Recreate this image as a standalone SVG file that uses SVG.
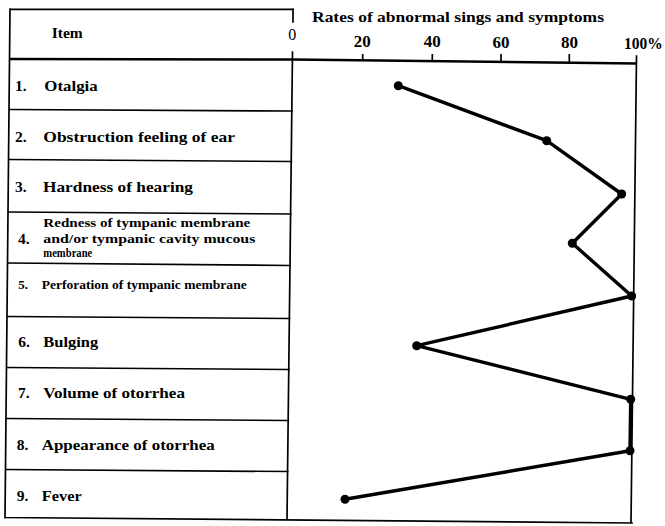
<svg xmlns="http://www.w3.org/2000/svg" width="665" height="526" viewBox="0 0 665 526">
<style>
.frame{fill:none;stroke:#000;stroke-width:1.7;stroke-linecap:square}
.axis{fill:none;stroke:#000;stroke-width:2.4}
.tick{fill:none;stroke:#000;stroke-width:1.7}
.data{fill:none;stroke:#000;stroke-width:3.4;stroke-linejoin:round;stroke-linecap:round}
.dot{fill:#000}
text{font-family:"Liberation Serif","DejaVu Serif",serif;font-weight:bold;fill:#000}
.lbl{font-size:15.5px}
.sm{font-size:13px}
.xs{font-size:12px}
.num{font-size:17px}
.hd{font-size:15px}
.zero{font-size:16px;font-weight:normal}
</style>
<rect x="0" y="0" width="665" height="526" fill="#fff"/>
<g id="frame">
<path class="frame" d="M10 9.3 H293 M10 9 L5 518 M293 9 V22 M292.5 52 L287 519 M636.5 56 L631 523 M5 517.5 L632 523"/>
<path class="axis" d="M10 59 L292 59.5 L637 63.5"/>
<path class="tick" d="M362.7 54 V60.5 M432.3 54 V61 M501 54 V62 M569.3 54 V62.5"/>
<path class="frame" d="M9.4 109.5 L292 111 M8.9 159.5 L291.4 161.5 M8.4 212 L290.8 214 M7.9 263 L290.1 265.5 M7.4 316.5 L289.5 318.5 M6.9 367.5 L288.9 369.5 M6.4 418.5 L288.3 420.5 M5.9 469.5 L287.6 471.5"/>
</g>
<g id="header">
<text class="hd" x="51.7" y="37.7" textLength="31" lengthAdjust="spacingAndGlyphs">Item</text>
<text class="hd" x="312" y="22" textLength="292" lengthAdjust="spacingAndGlyphs">Rates of abnormal sings and symptoms</text>
<text class="zero" x="292.3" y="40" text-anchor="middle">0</text>
<text class="num" x="362.3" y="46.7" text-anchor="middle">20</text>
<text class="num" x="432.3" y="47.2" text-anchor="middle">40</text>
<text class="num" x="501" y="48" text-anchor="middle">60</text>
<text class="num" x="569.5" y="48.3" text-anchor="middle">80</text>
<text class="num" x="624" y="49" textLength="38.7" lengthAdjust="spacingAndGlyphs">100%</text>
</g>
<g id="item1"><text class="lbl" y="91"><tspan x="15">1.</tspan><tspan x="44.3" textLength="53.4" lengthAdjust="spacingAndGlyphs">Otalgia</tspan></text></g>
<g id="item2"><text class="lbl" y="142"><tspan x="15">2.</tspan><tspan x="43.3" textLength="191.7" lengthAdjust="spacingAndGlyphs">Obstruction feeling of ear</tspan></text></g>
<g id="item3"><text class="lbl" y="191.7"><tspan x="15">3.</tspan><tspan x="43" textLength="150" lengthAdjust="spacingAndGlyphs">Hardness of hearing</tspan></text></g>
<g id="item4">
<text class="lbl" x="18" y="244">4.</text>
<text class="xs" x="43.3" y="227.3" textLength="207" lengthAdjust="spacingAndGlyphs">Redness of tympanic membrane</text>
<text class="xs" x="43.3" y="243" textLength="212" lengthAdjust="spacingAndGlyphs">and/or tympanic cavity mucous</text>
<text class="xs" x="43.3" y="256.7" textLength="49" lengthAdjust="spacingAndGlyphs">membrane</text>
</g>
<g id="item5"><text class="sm" y="289"><tspan x="18.3">5.</tspan><tspan x="41.7" textLength="205" lengthAdjust="spacingAndGlyphs">Perforation of tympanic membrane</tspan></text></g>
<g id="item6"><text class="lbl" y="346.7"><tspan x="18.3">6.</tspan><tspan x="43.3" textLength="55" lengthAdjust="spacingAndGlyphs">Bulging</tspan></text></g>
<g id="item7"><text class="lbl" y="398.3"><tspan x="18">7.</tspan><tspan x="43.3" textLength="141.7" lengthAdjust="spacingAndGlyphs">Volume of otorrhea</tspan></text></g>
<g id="item8"><text class="lbl" y="450"><tspan x="16.7">8.</tspan><tspan x="41.7" textLength="173" lengthAdjust="spacingAndGlyphs">Appearance of otorrhea</tspan></text></g>
<g id="item9"><text class="lbl" y="501"><tspan x="16.7">9.</tspan><tspan x="41.7" textLength="40" lengthAdjust="spacingAndGlyphs">Fever</tspan></text></g>
<g id="connectors">
<polyline class="data" points="398.3,85.7 546.7,140.7 621.7,194 572.3,243.3 631.7,296 416.7,345.7 630.7,399.3 630,450.7 345,499.3"/>
</g>
<g id="points">
<circle class="dot" cx="398.3" cy="85.7" r="4.5"/>
<circle class="dot" cx="546.7" cy="140.7" r="4.5"/>
<circle class="dot" cx="621.7" cy="194" r="4.5"/>
<circle class="dot" cx="572.3" cy="243.3" r="4.5"/>
<circle class="dot" cx="631.7" cy="296" r="4.5"/>
<circle class="dot" cx="416.7" cy="345.7" r="4.5"/>
<circle class="dot" cx="630.7" cy="399.3" r="4.5"/>
<circle class="dot" cx="630" cy="450.7" r="4.5"/>
<circle class="dot" cx="345" cy="499.3" r="4.5"/>
</g>
</svg>
